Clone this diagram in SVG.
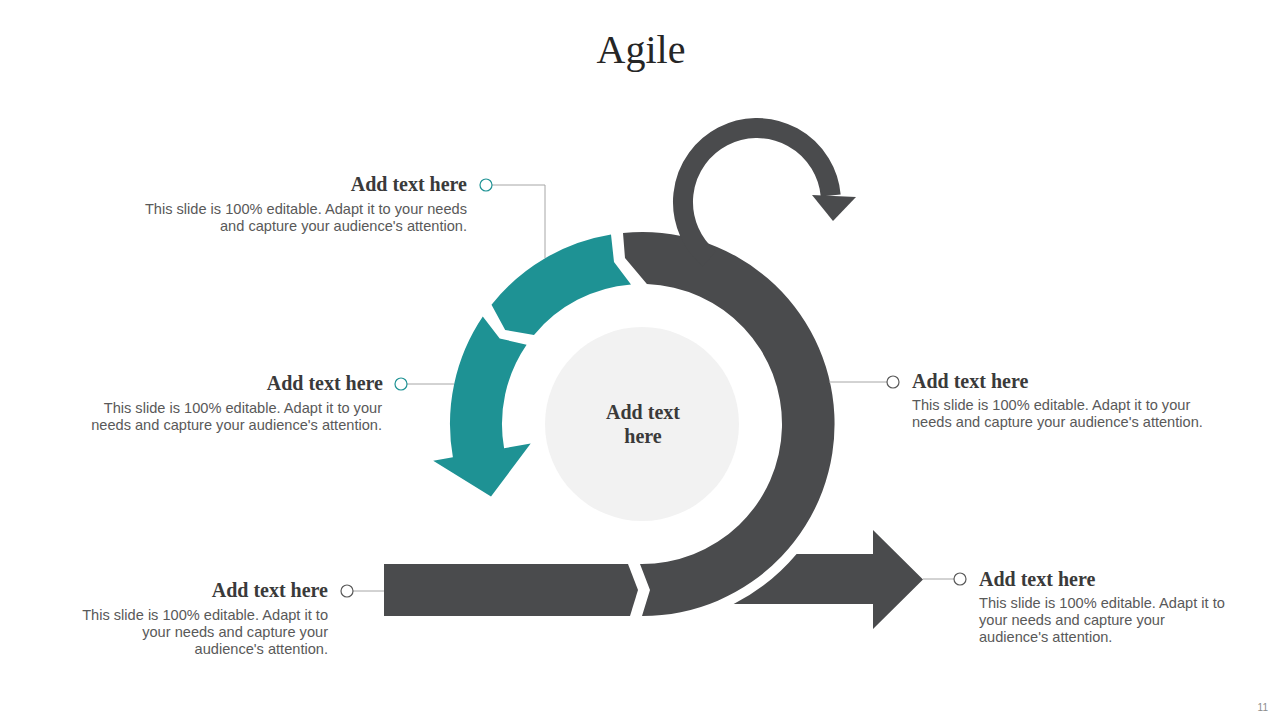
<svg xmlns="http://www.w3.org/2000/svg" width="1280" height="720" viewBox="0 0 1280 720">
<style>
.dark{fill:#4a4b4d}
.teal{fill:#1e9294}
.head{font-family:"Liberation Serif","Times New Roman",serif;font-weight:bold;font-size:20px;fill:#3a3a3a}
.body{font-family:"Liberation Sans",Arial,sans-serif;font-size:14.6px;fill:#595959}
.line{fill:none;stroke:#a6a6a6;stroke-width:1}
.dot{fill:#ffffff;stroke-width:1.2}
</style>
<rect width="1280" height="720" fill="#ffffff"/>
<text x="641" y="63" text-anchor="middle" font-family="Liberation Serif, Times New Roman, serif" font-size="40" fill="#262626">Agile</text>

<g id="center-circle">
<circle cx="642" cy="424" r="97" fill="#f2f2f2"/>
<text class="head" x="643" y="419" text-anchor="middle">Add text</text>
<text class="head" x="643" y="443" text-anchor="middle">here</text>
</g>

<g id="dark-arc">
<path class="dark" d="M623,233 A192,192 0 1 1 642,616 L650,590 L640,564 A140,140 0 0 0 646.9,284.1 L625,258 Z"/>
<path d="M709.4,258.7 A74,74 0 1 1 830.7,195.5" fill="none" stroke="#4a4b4d" stroke-width="20"/>
<polygon class="dark" points="812,195 856,197 833,221"/>
</g>

<g id="teal-arc-1">
<path class="teal" d="M611,234.5 A192,192 0 0 0 491.5,304.7 L505.2,330 L534,334.9 A140,140 0 0 1 631,284.5 L614,262 Z"/>
</g>

<g id="teal-arc-2">
<path class="teal" d="M482.8,316.6 A192,192 0 0 0 452.9,457.3 L433.2,460.8 L491,496.5 L530.7,443.6 L504.1,448.3 A140,140 0 0 1 526.6,344.7 L499.7,338.5 Z"/>
</g>

<g id="input-bar">
<path class="dark" d="M384,564 L628,564 L638,590 L630,616 L384,616 Z"/>
</g>

<g id="output-arrow">
<path class="dark" d="M796.6,554 L873,554 L873,530 L923,579.5 L873,629 L873,604 L733.7,604 A202,202 0 0 0 796.6,554 Z"/>
</g>

<g id="connectors">
<polyline class="line" points="492,185 545,185 545,258"/>
<line class="line" x1="407" y1="384" x2="454" y2="384"/>
<line class="line" x1="829" y1="382" x2="887" y2="382"/>
<line class="line" x1="353" y1="591" x2="384" y2="591"/>
<line class="line" x1="923" y1="579" x2="954" y2="579"/>
</g>

<g id="label-top-left">
<circle class="dot" cx="486" cy="185" r="6" stroke="#1e9294"/>
<text class="head" x="467" y="191" text-anchor="end">Add text here</text>
<text class="body" x="467" y="214" text-anchor="end">This slide is 100% editable. Adapt it to your needs</text>
<text class="body" x="467" y="231" text-anchor="end">and capture your audience's attention.</text>
</g>

<g id="label-mid-left">
<circle class="dot" cx="401" cy="384" r="6" stroke="#1e9294"/>
<text class="head" x="383" y="390" text-anchor="end">Add text here</text>
<text class="body" x="382" y="413" text-anchor="end">This slide is 100% editable. Adapt it to your</text>
<text class="body" x="382" y="430" text-anchor="end">needs and capture your audience's attention.</text>
</g>

<g id="label-bottom-left">
<circle class="dot" cx="347" cy="591" r="6" stroke="#595959"/>
<text class="head" x="328" y="597" text-anchor="end">Add text here</text>
<text class="body" x="328" y="620" text-anchor="end">This slide is 100% editable. Adapt it to</text>
<text class="body" x="328" y="637" text-anchor="end">your needs and capture your</text>
<text class="body" x="328" y="654" text-anchor="end">audience's attention.</text>
</g>

<g id="label-right">
<circle class="dot" cx="893" cy="382" r="6" stroke="#595959"/>
<text class="head" x="912" y="388">Add text here</text>
<text class="body" x="912" y="410">This slide is 100% editable. Adapt it to your</text>
<text class="body" x="912" y="427">needs and capture your audience's attention.</text>
</g>

<g id="label-bottom-right">
<circle class="dot" cx="960" cy="579" r="6" stroke="#595959"/>
<text class="head" x="979" y="586">Add text here</text>
<text class="body" x="979" y="608">This slide is 100% editable. Adapt it to</text>
<text class="body" x="979" y="625">your needs and capture your</text>
<text class="body" x="979" y="642">audience's attention.</text>
</g>

<text x="1268" y="711" text-anchor="end" font-family="Liberation Sans, Arial, sans-serif" font-size="10" fill="#8c8c8c">11</text>
</svg>
